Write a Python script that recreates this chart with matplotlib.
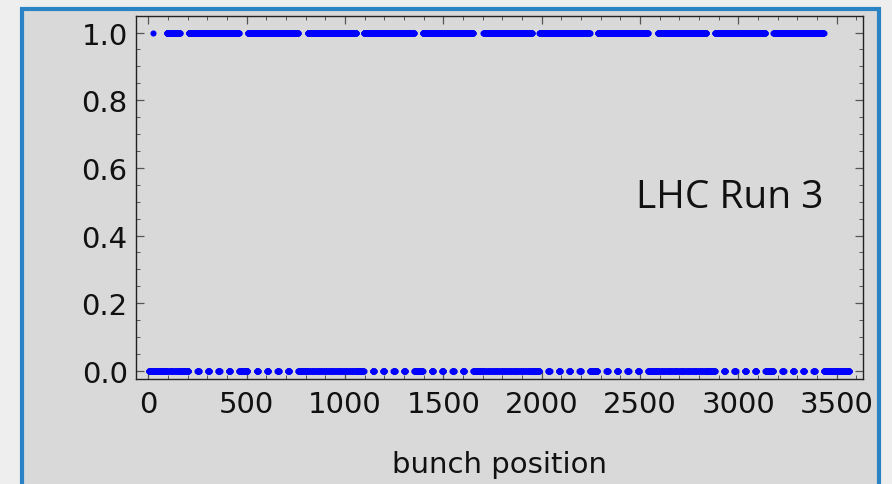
import numpy as np
import matplotlib.pyplot as plt
from matplotlib.patches import Rectangle

# LHC ring: 3564 bunch slots (25 ns)
n_slots = 3564

# filling scheme, one entry per batch of trains
batch_start = [93, 204, 505, 810, 1095, 1395, 1704, 1988, 2284, 2590, 2881, 3178]
batch_trains = [6, 5, 5, 21, 5, 5, 21, 5, 5, 21, 5, 5]
train_length = [8, 45, 45, 8, 45, 45, 8, 45, 45, 8, 45, 45]
train_gap = [4, 8, 8, 4, 8, 8, 4, 8, 8, 4, 8, 8]
single_bunches = [23]

x_ticks = [0, 500, 1000, 1500, 2000, 2500, 3000, 3500]
y_ticks = [0.0, 0.2, 0.4, 0.6, 0.8, 1.0]

# 1 = filled slot, 0 = empty slot
slots = np.arange(1, n_slots + 1)
filled = np.zeros(n_slots)
for s in single_bunches:
    filled[s - 1] = 1
for start, ntr, ln, gap in zip(batch_start, batch_trains, train_length, train_gap):
    for k in range(ntr):
        a = start + k * (ln + gap)
        filled[a - 1:a - 1 + ln] = 1

W, H = 892, 485
fig = plt.figure(figsize=(W / 100, H / 100), dpi=100)
fig.patch.set_facecolor("#eeeeee")

# slide box behind the plot
box = Rectangle((22 / W, -0.1), 857 / W, 1.1 - 10 / H, transform=fig.transFigure,
                facecolor="#d9d9d9", edgecolor="#2b83c6", linewidth=3, zorder=-10)
fig.patches.append(box)

ax = fig.add_axes([136 / W, 1 - 380 / H, 727 / W, 363 / H])
ax.set_facecolor("#d9d9d9")

ax.plot(slots, filled, linestyle="none", marker="o", markersize=4.4,
        markeredgewidth=0, color="#0000ff", clip_on=False)

ax.set_xlim(-63, 3634)
ax.set_ylim(-0.024, 1.049)
ax.set_xticks(x_ticks)
ax.set_yticks(y_ticks)
ax.set_yticklabels([f"{v:.1f}" for v in y_ticks])
ax.set_xticks(np.arange(0, 3601, 100), minor=True)
ax.set_yticks(np.arange(0, 1.05, 0.05), minor=True)

ax.tick_params(which="both", direction="in", top=True, right=True,
               color="#555555", labelsize=21, labelcolor="#111111")
ax.tick_params(which="major", length=5.5, width=0.9)
ax.tick_params(which="minor", length=2.8, width=0.7)
ax.tick_params(axis="y", pad=6)
ax.tick_params(axis="x", pad=8)
for sp in ax.spines.values():
    sp.set_color("#222222")
    sp.set_linewidth(1.0)

ax.set_xlabel("bunch position", fontsize=21, color="#111111", labelpad=23)

fig.text(730 / W, 1 - 198 / H, "LHC Run 3", fontsize=28, family="Open Sans",
         color="#111111", ha="center", va="center")

fig.savefig("out.png", dpi=100, facecolor=fig.get_facecolor())
